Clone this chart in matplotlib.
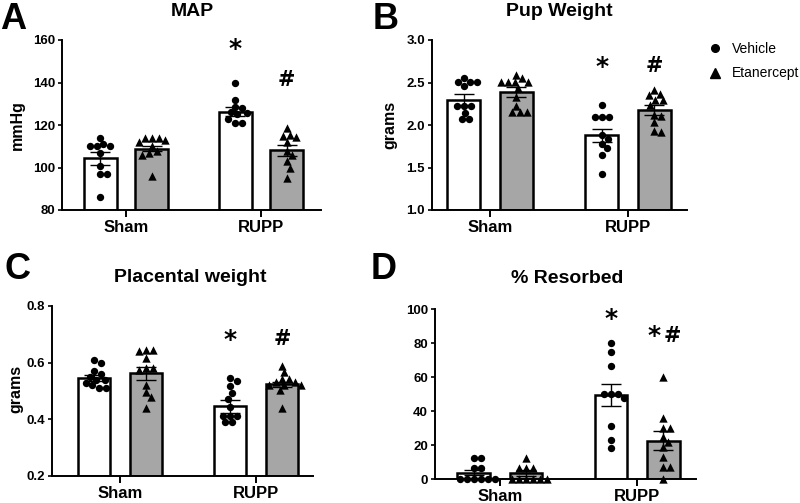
import numpy as np
import matplotlib
matplotlib.use('Agg')
import matplotlib.pyplot as plt
from matplotlib.lines import Line2D

plt.rcParams['font.family'] = ['Liberation Sans', 'DejaVu Sans']

groups = ['Sham', 'RUPP']
treatments = ['Vehicle', 'Etanercept']

# MAP (mmHg): Sham-Vehicle, Sham-Etanercept, RUPP-Vehicle, RUPP-Etanercept
map_sham_veh = [114, 111, 110, 110, 110, 107, 100.5, 97, 97, 86]
map_sham_eta = [114, 114, 114, 113, 112, 110, 108, 107, 106, 96]
map_rupp_veh = [140, 132, 128.5, 128, 126, 125.5, 125, 123, 121, 121]
map_rupp_eta = [118.5, 115.5, 115, 114.5, 112, 108, 106, 103, 100, 95]
map_mean = [104.4, 108.8, 126.3, 108.2]
map_sem = [3.0, 1.2, 2.0, 2.6]

# Pup weight (grams)
pup_sham_veh = [2.55, 2.51, 2.51, 2.51, 2.46, 2.22, 2.22, 2.22, 2.14, 2.07, 2.07]
pup_sham_eta = [2.59, 2.55, 2.51, 2.51, 2.51, 2.51, 2.44, 2.33, 2.22, 2.15, 2.15, 2.15]
pup_rupp_veh = [2.24, 2.10, 2.10, 2.10, 1.88, 1.84, 1.78, 1.73, 1.65, 1.42]
pup_rupp_eta = [2.41, 2.36, 2.35, 2.30, 2.29, 2.24, 2.12, 2.11, 2.03, 1.93, 1.92]
pup_mean = [2.30, 2.39, 1.88, 2.18]
pup_sem = [0.06, 0.06, 0.075, 0.06]

# Placental weight (grams)
pla_sham_veh = [0.61, 0.60, 0.57, 0.56, 0.55, 0.54, 0.54, 0.53, 0.52, 0.51, 0.51]
pla_sham_eta = [0.645, 0.645, 0.64, 0.615, 0.58, 0.58, 0.575, 0.52, 0.495, 0.48, 0.44]
pla_rupp_veh = [0.546, 0.537, 0.516, 0.492, 0.472, 0.445, 0.413, 0.413, 0.413, 0.389, 0.389]
pla_rupp_eta = [0.59, 0.567, 0.543, 0.543, 0.531, 0.531, 0.52, 0.52, 0.52, 0.502, 0.439]
pla_mean = [0.546, 0.563, 0.446, 0.523]
pla_sem = [0.01, 0.023, 0.022, 0.009]

# % Resorbed
res_sham_veh = [12.5, 12.5, 6.3, 6.3, 0, 0, 0, 0, 0, 0]
res_sham_eta = [12.5, 6.5, 6.5, 6.5, 0, 0, 0, 0, 0, 0]
res_rupp_veh = [80, 75, 66.7, 50, 50, 50, 47.5, 31, 23, 18.5]
res_rupp_eta = [60, 36, 30, 30, 25, 22, 19, 13, 7, 7, 0]
res_mean = [3.8, 3.5, 49.2, 22.5]
res_sem = [1.5, 1.7, 6.5, 5.6]

W, H = 800, 503
fig = plt.figure(figsize=(W / 100, H / 100), dpi=100)

bar_colors = ['white', '#a6a6a6', 'white', '#a6a6a6']
markers = ['o', '^', 'o', '^']
msize = [28, 36, 28, 36]
offset, bw = 0.19, 0.24

panels = [
    dict(letter='A', title='MAP', ylabel='mmHg',
         data=[map_sham_veh, map_sham_eta, map_rupp_veh, map_rupp_eta],
         mean=map_mean, sem=map_sem, ylim=(80, 160), yticks=[80, 100, 120, 140, 160], fmt='{:.0f}',
         box=(62, 40, 321, 210), xlim=(-0.474, 1.444),
         letter_xy=(0, 2), title_xy=(192, 16), ylabel_xy=(17, 125),
         marks=[(2, '*', 156), (3, '#', 141)]),
    dict(letter='B', title='Pup Weight', ylabel='grams',
         data=[pup_sham_veh, pup_sham_eta, pup_rupp_veh, pup_rupp_eta],
         mean=pup_mean, sem=pup_sem, ylim=(1.0, 3.0), yticks=[1.0, 1.5, 2.0, 2.5, 3.0], fmt='{:.1f}',
         box=(432, 40, 687, 210), xlim=(-0.42, 1.428),
         letter_xy=(373, 2), title_xy=(559, 16), ylabel_xy=(390, 125),
         marks=[(2, '*', 2.68), (3, '#', 2.70)]),
    dict(letter='C', title='Placental weight', ylabel='grams',
         data=[pla_sham_veh, pla_sham_eta, pla_rupp_veh, pla_rupp_eta],
         mean=pla_mean, sem=pla_sem, ylim=(0.2, 0.8), yticks=[0.2, 0.4, 0.6, 0.8], fmt='{:.1f}',
         box=(52, 306, 313, 476), xlim=(-0.5, 1.419),
         letter_xy=(4, 252), title_xy=(190, 282), ylabel_xy=(16, 389),
         marks=[(2, '*', 0.68), (3, '#', 0.685)]),
    dict(letter='D', title='% Resorbed', ylabel=None,
         data=[res_sham_veh, res_sham_eta, res_rupp_veh, res_rupp_eta],
         mean=res_mean, sem=res_sem, ylim=(0, 100), yticks=[0, 20, 40, 60, 80, 100], fmt='{:.0f}',
         box=(435, 309, 696, 479), xlim=(-0.474, 1.43),
         letter_xy=(371, 252), title_xy=(567, 283), ylabel_xy=None,
         marks=[(2, '*', 94), (3, '*#', 84)]),
]


def swarm(vals, ypx, d):
    # simple beeswarm in pixel space, returns horizontal offsets in px
    ys = np.asarray(vals, float) * ypx
    xs = np.zeros(len(ys))
    placed = []
    for i in np.argsort(-ys, kind='stable'):
        cands = [0.0]
        for px, py in placed:
            dy = ys[i] - py
            if abs(dy) < d:
                dx = np.sqrt(d * d - dy * dy)
                cands += [px + dx, px - dx]
        cands.sort(key=abs)
        for c in cands:
            if all((c - px) ** 2 + (ys[i] - py) ** 2 >= d * d - 1e-6 for px, py in placed):
                xs[i] = c
                placed.append((c, ys[i]))
                break
    return xs


for p in panels:
    x0, y0, x1, y1 = p['box']
    ax = fig.add_axes([x0 / W, 1 - y1 / H, (x1 - x0) / W, (y1 - y0) / H])
    ylo, yhi = p['ylim']
    ax.set_xlim(*p['xlim'])
    ax.set_ylim(ylo, yhi)
    ypx = (y1 - y0) / (yhi - ylo)
    xpx = (x1 - x0) / (p['xlim'][1] - p['xlim'][0])

    xpos = [-offset, offset, 1 - offset, 1 + offset]
    heights = [m - ylo for m in p['mean']]
    ax.bar(xpos, heights, bottom=ylo, width=bw, color=bar_colors,
           edgecolor='black', linewidth=1.8, zorder=1)
    for i, vals in enumerate(p['data']):
        dx = swarm(vals, ypx, 7.0) / xpx
        ax.scatter(xpos[i] + dx, vals, s=msize[i], marker=markers[i], color='black',
                   linewidths=0, zorder=3, clip_on=False)
    ax.errorbar(xpos, p['mean'], yerr=p['sem'], fmt='none', ecolor='black',
                elinewidth=1.0, capsize=7, capthick=1.0, zorder=4)

    for i, txt, yv in p['marks']:
        for j, ch in enumerate(txt):
            # asterisk drawn larger than the hash, like the original
            fs = 18 if ch == '*' else 15
            shift = (j - (len(txt) - 1) / 2) * 0.13
            ax.text(xpos[i] + shift, yv, ch, ha='center', va='center', fontsize=fs,
                    fontweight='bold', family='DejaVu Sans')

    for s in ['top', 'right']:
        ax.spines[s].set_visible(False)
    for s in ['left', 'bottom']:
        ax.spines[s].set_linewidth(1.4)
    ax.set_yticks(p['yticks'])
    ax.set_yticklabels([p['fmt'].format(v) for v in p['yticks']], fontsize=9.5, fontweight='bold')
    ax.set_xticks([0, 1])
    ax.set_xticklabels(groups, fontsize=12, fontweight='bold')
    ax.tick_params(axis='y', length=3, width=1.2, pad=2)
    ax.tick_params(axis='x', length=5, width=1.4, pad=2)

    fig.text(p['letter_xy'][0] / W, 1 - p['letter_xy'][1] / H, p['letter'],
             fontsize=26, fontweight='bold', ha='left', va='top')
    fig.text(p['title_xy'][0] / W, 1 - p['title_xy'][1] / H, p['title'],
             fontsize=14, fontweight='bold', ha='center', va='baseline')
    if p['ylabel']:
        fig.text(p['ylabel_xy'][0] / W, 1 - p['ylabel_xy'][1] / H, p['ylabel'],
                 fontsize=11.5, fontweight='bold', rotation=90, ha='center', va='center')

handles = [Line2D([], [], marker='o', color='black', linestyle='none', markersize=5.5),
           Line2D([], [], marker='^', color='black', linestyle='none', markersize=6.5)]
fig.legend(handles, treatments, loc='upper left', bbox_to_anchor=(708 / W, 1 - 42 / H),
           frameon=False, fontsize=10, handlelength=1.0, handletextpad=0.7,
           labelspacing=0.75, borderaxespad=0, borderpad=0)

fig.savefig('out.png', dpi=100)
